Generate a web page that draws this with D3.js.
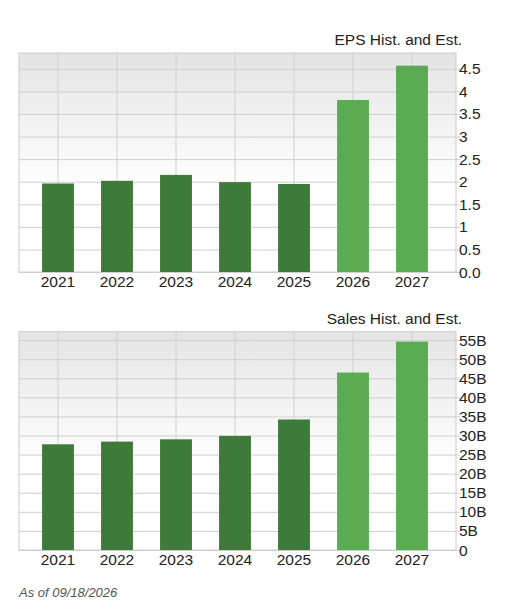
<!DOCTYPE html>
<html><head><meta charset="utf-8">
<script src="https://cdn.jsdelivr.net/npm/d3@7"></script>
<style>body{margin:0;background:#fff;font-family:"Liberation Sans",Arial,sans-serif;}</style>
</head><body><svg id="c" width="532" height="612"></svg>
<script>
var years = ['2021', '2022', '2023', '2024', '2025', '2026', '2027'];
var estimated = [false, false, false, false, false, true, true];
var epsValues = [1.96, 2.02, 2.15, 1.99, 1.95, 3.81, 4.57];
var salesValues = [27.7, 28.4, 29.0, 29.9, 34.2, 46.5, 54.6];
var epsTicks = [0, 0.5, 1, 1.5, 2, 2.5, 3, 3.5, 4, 4.5];
var epsTickLabels = ['0.0', '0.5', '1', '1.5', '2', '2.5', '3', '3.5', '4', '4.5'];
var salesTicks = [0, 5, 10, 15, 20, 25, 30, 35, 40, 45, 50, 55];
var salesTickLabels = ['0', '5B', '10B', '15B', '20B', '25B', '30B', '35B', '40B', '45B', '50B', '55B'];

var svg = d3.select('#c');
var defs = svg.append('defs');
var grad = defs.append('linearGradient').attr('id', 'bg').attr('x1', 0).attr('y1', 0).attr('x2', 0).attr('y2', 1);
grad.append('stop').attr('offset', '0%').attr('stop-color', '#e4e4e4');
grad.append('stop').attr('offset', '60%').attr('stop-color', '#ffffff');
grad.append('stop').attr('offset', '100%').attr('stop-color', '#ffffff');

function drawPanel(top, bottom, max, values, ticks, labels, title) {
    var left = 19, right = 456;
    var g = svg.append('g');
    var x = d3.scaleBand().domain(years).range([28.5, 441.5]).paddingInner(0.46).paddingOuter(0.23);
    var y = d3.scaleLinear().domain([0, max]).range([bottom, top]);

    g.append('rect').attr('x', left).attr('y', top).attr('width', right - left).attr('height', bottom - top)
        .attr('fill', 'url(#bg)').attr('stroke', '#cccccc');

    // grid
    g.selectAll('line.h').data(ticks).enter().append('line')
        .attr('x1', left).attr('x2', right + 4).attr('y1', (d) => y(d) + 0.5).attr('y2', (d) => y(d) + 0.5)
        .attr('stroke', '#cfcfcf');
    g.selectAll('line.v').data(years).enter().append('line')
        .attr('x1', (d) => x(d) + x.bandwidth() / 2).attr('x2', (d) => x(d) + x.bandwidth() / 2)
        .attr('y1', top).attr('y2', bottom).attr('stroke', '#d0d0d0');

    g.selectAll('rect.bar').data(values).enter().append('rect')
        .attr('x', (d, i) => x(years[i])).attr('width', x.bandwidth())
        .attr('y', (d) => y(d)).attr('height', (d) => bottom - y(d))
        .attr('fill', (d, i) => estimated[i] ? '#5aab52' : '#3e7a39');

    g.selectAll('text.yl').data(ticks).enter().append('text')
        .attr('x', right + 3).attr('y', (d) => y(d) + 5.5)
        .attr('font-size', 15.5).attr('fill', '#222')
        .text((d, i) => labels[i]);

    g.selectAll('text.xl').data(years).enter().append('text')
        .attr('x', (d) => x(d) + x.bandwidth() / 2).attr('y', bottom + 15)
        .attr('text-anchor', 'middle').attr('font-size', 15.5).attr('fill', '#222')
        .text((d) => d);

    g.append('text').attr('x', 462).attr('y', top - 8).attr('text-anchor', 'end')
        .attr('font-size', 15.5).attr('fill', '#222').text(title);
}

drawPanel(53, 272, 4.85, epsValues, epsTicks, epsTickLabels, 'EPS Hist. and Est.');
drawPanel(331.7, 550, 57.2, salesValues, salesTicks, salesTickLabels, 'Sales Hist. and Est.');

svg.append('text').attr('x', 19).attr('y', 597).attr('font-size', 13).attr('font-style', 'italic')
    .attr('fill', '#555').text('As of 09/18/2026');
</script>
</body></html>
